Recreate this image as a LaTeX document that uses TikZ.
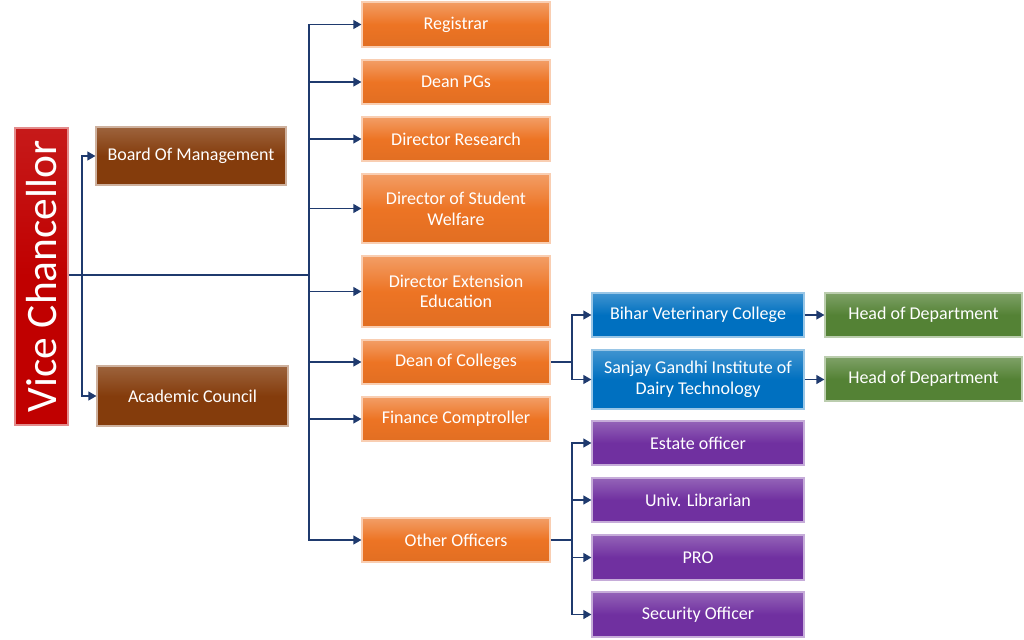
\documentclass[tikz,border=0pt]{standalone}
\usepackage{fontspec}
\setmainfont{Carlito}
\usetikzlibrary{arrows.meta}
\definecolor{lnk}{HTML}{1F3A6E}
\definecolor{cred}{HTML}{C00000}
\definecolor{cbrown}{HTML}{843C0C}
\definecolor{corange}{HTML}{ED7424}
\definecolor{cblue}{HTML}{0070C0}
\definecolor{cgreen}{HTML}{548235}
\definecolor{cpurple}{HTML}{7030A0}
\tikzset{
  bx/.style={rectangle, inner sep=1pt, align=center, text=white,
    font=\fontsize{13.5pt}{15.5pt}\selectfont, line width=0.8pt},
  redbox/.style={bx, top color=cred!90!white, bottom color=cred, middle color=cred, draw=cred!45!white},
  brownbox/.style={bx, top color=cbrown!80!white, bottom color=cbrown, middle color=cbrown, draw=cbrown!40!white},
  orangebox/.style={bx, top color=corange!70!white, bottom color=corange!95!black, middle color=corange, draw=corange!35!white},
  bluebox/.style={bx, top color=cblue!75!white, bottom color=cblue, middle color=cblue, draw=cblue!40!white},
  greenbox/.style={bx, top color=cgreen!75!white, bottom color=cgreen, middle color=cgreen, draw=cgreen!40!white},
  purplebox/.style={bx, top color=cpurple!75!white, bottom color=cpurple, middle color=cpurple, draw=cpurple!40!white},
  link/.style={draw=lnk, line width=1.3pt},
  arr/.style={link, -{Triangle[length=6pt,width=6.5pt]}}
}
\newcommand{\bx}[7]{%
  \node[#6, minimum width={(#4-#2)*0.75pt}, minimum height={(#5-#3)*0.75pt}]
    (#1) at ({(#2+#4)/2},{(#3+#5)/2}) {#7};}
\begin{document}
\begin{tikzpicture}[x=0.75pt,y=-0.75pt]
\useasboundingbox (0,0) rectangle (1024,639);
% Vice Chancellor
\node[redbox, minimum width={(425-128)*0.75pt}, minimum height={(68-15)*0.75pt},
  rotate=90, font=\fontsize{32.6pt}{34pt}\selectfont] (vc) at (41.5,276.5) {Vice Chancellor};
\bx{bom}{96}{127}{286}{185}{brownbox}{Board Of Management}
\bx{ac}{97}{366}{288}{426}{brownbox}{Academic Council}
\bx{reg}{362}{2}{550}{47}{orangebox}{Registrar}
\bx{dpg}{362}{60}{550}{104}{orangebox}{Dean PGs}
\bx{dr}{362}{117}{550}{161}{orangebox}{Director Research}
\bx{dsw}{362}{174}{550}{243}{orangebox}{Director of Student\\Welfare}
\bx{dee}{362}{256}{550}{327}{orangebox}{Director Extension\\Education}
\bx{doc}{362}{340}{550}{384}{orangebox}{Dean of Colleges}
\bx{fc}{362}{397}{550}{441}{orangebox}{Finance Comptroller}
\bx{oo}{362}{518}{550}{562}{orangebox}{Other Officers}
\bx{bvc}{592}{293}{804}{337}{bluebox}{Bihar Veterinary College}
\bx{sgi}{592}{350}{804}{409}{bluebox}{Sanjay Gandhi Institute of\\Dairy Technology}
\bx{hod1}{825}{293}{1022}{337}{greenbox}{Head of Department}
\bx{hod2}{825}{357}{1022}{401}{greenbox}{Head of Department}
\bx{eo}{592}{421}{804}{465}{purplebox}{Estate officer}
\bx{ul}{592}{478}{804}{522}{purplebox}{Univ. Librarian}
\bx{pro}{592}{535}{804}{580}{purplebox}{PRO}
\bx{so}{592}{592}{804}{637}{purplebox}{Security Officer}
% coordinates
\coordinate (j1) at (82,275);
\coordinate (j2) at (309,275);
\coordinate (j3) at (572,362);
\coordinate (j4) at (572,540);
% VC links
\draw[link] (vc.south |- j1) -- (j2);
\draw[arr] (j1) |- (bom.west);
\draw[arr] (j1) |- (ac.west);
\foreach \n in {reg,dpg,dr,dsw,dee,doc,fc,oo}
  \draw[arr] (j2) |- (\n.west);
% Dean of colleges
\draw[link] (doc.east) -- (j3);
\draw[arr] (j3) |- (bvc.west);
\draw[arr] (j3) |- (sgi.west);
\draw[arr] (bvc.east) -- (hod1.west);
\draw[arr] (sgi.east) -- (hod2.west |- sgi.east);
% Other officers
\draw[link] (oo.east) -- (j4);
\foreach \n in {eo,ul,pro,so}
  \draw[arr] (j4) |- (\n.west);
\end{tikzpicture}
\end{document}
